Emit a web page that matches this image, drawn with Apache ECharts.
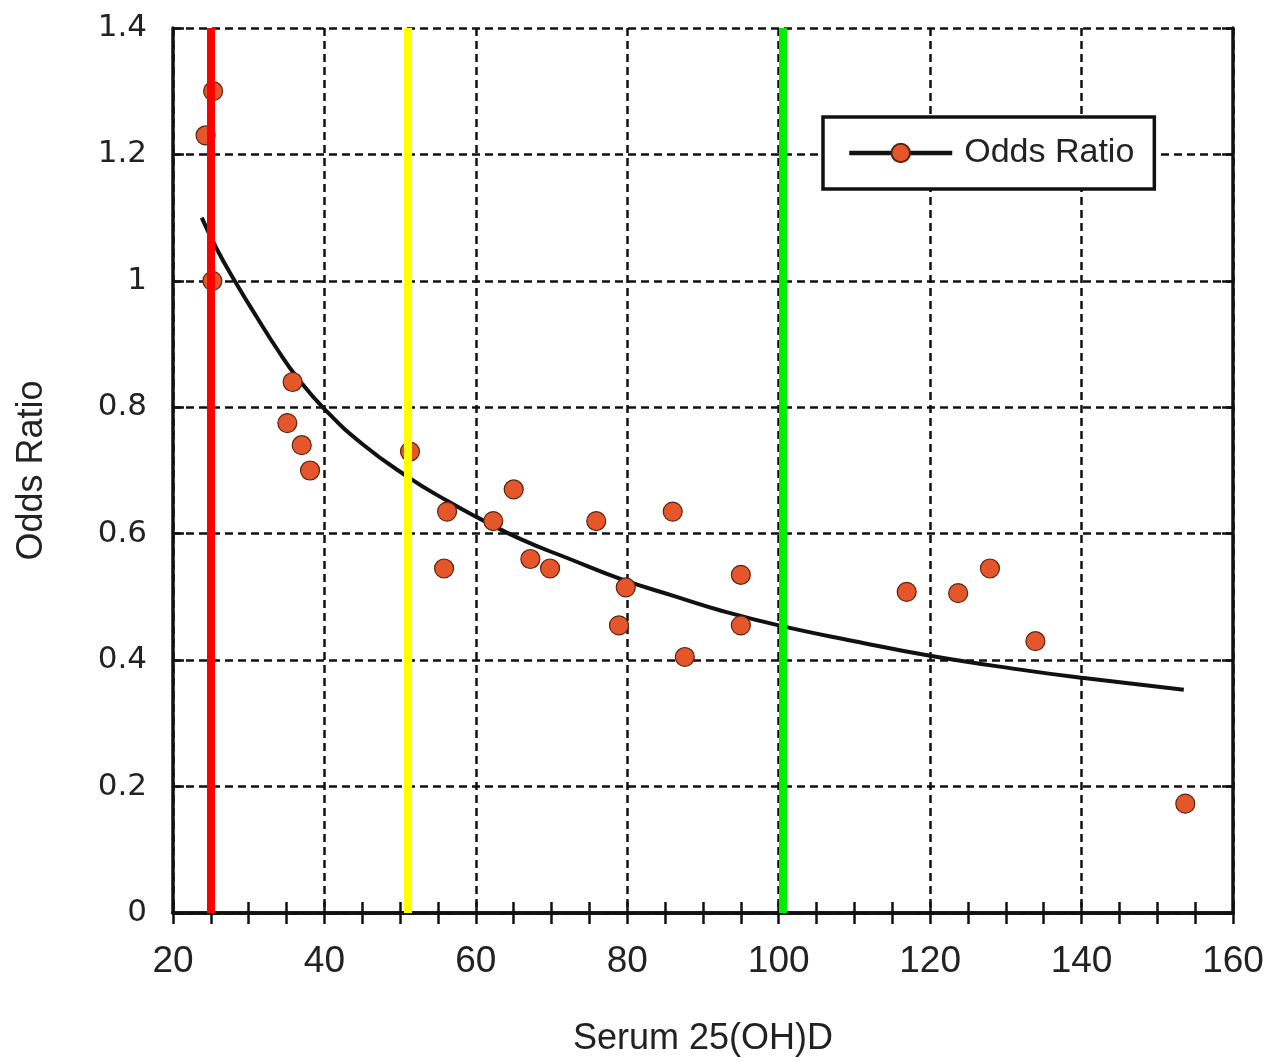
<!DOCTYPE html>
<html>
<head>
<meta charset="utf-8">
<script src="https://cdn.jsdelivr.net/npm/echarts@6/dist/echarts.min.js"></script>
<style>
html,body{margin:0;padding:0;background:#fff;}
#chart{width:1271px;height:1062px;}
</style>
</head>
<body>
<div id="chart"></div>
<script>
// Observed odds ratios (x = serum 25(OH)D, y = odds ratio)
const pointX = [25.3, 24.3, 25.2, 35.8, 35.1, 37.0, 38.1, 51.3, 56.2, 55.8, 62.3, 65.0, 67.2, 69.8, 75.9, 79.8, 78.9, 86.0, 87.6, 95.0, 95.0, 116.9, 123.7, 127.9, 133.9, 153.7];
const pointY = [1.30, 1.23, 1.00, 0.84, 0.775, 0.74, 0.70, 0.73, 0.635, 0.545, 0.62, 0.67, 0.56, 0.545, 0.62, 0.515, 0.455, 0.635, 0.405, 0.535, 0.455, 0.508, 0.506, 0.545, 0.43, 0.173];
// Fitted curve
const curveX = [23.8, 25.8, 28.4, 31.1, 33.7, 36.4, 40.1, 45, 51, 56.2, 60, 66, 72.4, 79, 86, 92.2, 100, 110, 120, 131.9, 140, 153.5];
const curveY = [1.10, 1.05, 0.995, 0.942, 0.893, 0.847, 0.796, 0.742, 0.690, 0.652, 0.627, 0.591, 0.560, 0.529, 0.502, 0.479, 0.455, 0.430, 0.407, 0.385, 0.372, 0.353];
// Reference vertical lines
const refX = [25, 51, 100.5];
const refColors = ['#ff0000', '#ffff00', '#00ee00'];
const xTicks = [20, 40, 60, 80, 100, 120, 140, 160];
const yTicks = ['0', '0.2', '0.4', '0.6', '0.8', '1', '1.2', '1.4'];

const chart = echarts.init(document.getElementById('chart'));
const gridDash = {color: '#111', width: 2.5, type: [8, 5]};
const frame = {show: true, lineStyle: {color: '#111', width: 3.5}};
const tickStyle = {color: '#111', width: 2.5};

const option = {
  animation: false,
  backgroundColor: '#fff',
  grid: {left: 173, right: 38, top: 28, bottom: 146, containLabel: false},
  legend: {
    data: ['Odds Ratio'],
    left: 823, top: 117,
    orient: 'horizontal',
    itemWidth: 103, itemHeight: 23,
    padding: [19, 20, 19, 24],
    borderColor: '#111', borderWidth: 3.5,
    backgroundColor: '#fff',
    lineStyle: {color: '#111', width: 4.5},
    textStyle: {fontSize: 34, color: '#222', fontFamily: 'Liberation Sans', padding: [0, 0, 0, 7]},
    selectedMode: false
  },
  xAxis: [{
    type: 'value', min: 20, max: 160, interval: 20,
    name: 'Serum 25(OH)D', nameLocation: 'middle', nameGap: 108,
    nameTextStyle: {fontSize: 36, color: '#222', fontFamily: 'Liberation Sans'},
    axisLine: frame,
    axisTick: {show: true, inside: true, length: 11, lineStyle: tickStyle},
    minorTick: {show: true, splitNumber: 4, length: 11, lineStyle: tickStyle},
    splitLine: {show: true, lineStyle: gridDash},
    axisLabel: {fontSize: 37, color: '#222', fontFamily: 'Liberation Sans', margin: 30,
      formatter: v => xTicks.indexOf(v) >= 0 ? String(v) : ''}
  }, {
    type: 'value', position: 'top', min: 20, max: 160, interval: 20,
    axisLine: frame,
    axisTick: {show: true, inside: true, length: 11, lineStyle: tickStyle},
    minorTick: {show: true, splitNumber: 4, length: 11, lineStyle: tickStyle},
    splitLine: {show: false}, axisLabel: {show: false}
  }],
  yAxis: [{
    type: 'value', min: 0, max: 1.4, interval: 0.2,
    name: 'Odds Ratio', nameLocation: 'middle', nameGap: 123,
    nameTextStyle: {fontSize: 36, color: '#222', fontFamily: 'Liberation Sans'},
    axisLine: frame,
    axisTick: {show: true, inside: true, length: 11, lineStyle: tickStyle},
    splitLine: {show: true, lineStyle: gridDash},
    axisLabel: {fontSize: 31, color: '#222', fontFamily: 'DejaVu Sans', margin: 26,
      formatter: v => yTicks[Math.round(v / 0.2)]}
  }, {
    type: 'value', position: 'right', min: 0, max: 1.4, interval: 0.2,
    axisLine: frame,
    axisTick: {show: true, inside: true, length: 11, lineStyle: tickStyle},
    splitLine: {show: false}, axisLabel: {show: false}
  }],
  series: [
    {
      name: 'fit', type: 'line', z: 3,
      data: curveX.map((x, i) => [x, curveY[i]]),
      smooth: 0.5, showSymbol: false, symbol: 'none',
      lineStyle: {color: '#111', width: 4}
    },
    {
      name: 'points', type: 'scatter', z: 4,
      data: pointX.map((x, i) => [x, pointY[i]]),
      symbol: 'circle', symbolSize: 19,
      itemStyle: {color: '#e5562a', borderColor: '#5a2410', borderWidth: 1.2, opacity: 1}
    },
    {
      name: 'Odds Ratio', type: 'line', data: [],
      symbol: 'circle', symbolSize: 18,
      lineStyle: {color: '#111', width: 4.5},
      itemStyle: {color: '#e5562a', borderColor: '#5a2410', borderWidth: 1.2}
    },
    {
      name: 'refs', type: 'line', data: [], z: 6,
      markLine: {
        silent: true, symbol: ['none', 'none'], label: {show: false},
        animation: false,
        data: refX.map((x, i) => ({xAxis: x, lineStyle: {color: refColors[i], width: 8, type: 'solid'}}))
      }
    }
  ]
};
chart.setOption(option);
</script>
</body>
</html>
